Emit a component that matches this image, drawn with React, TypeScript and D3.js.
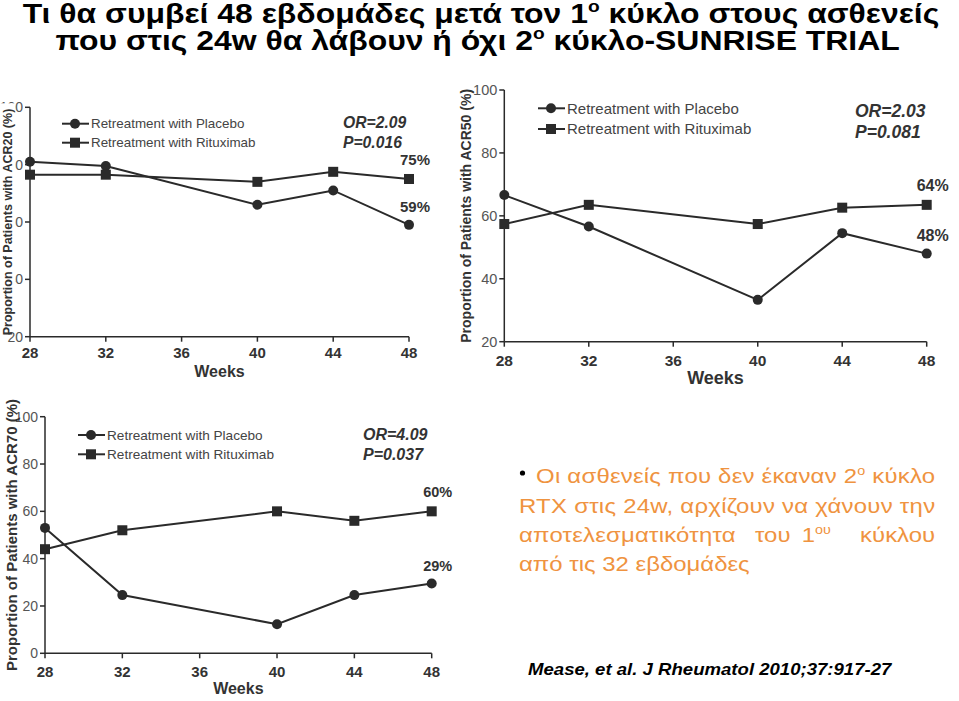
import React from 'react';
import * as d3 from 'd3';

// data
const weeks = [28, 32, 40, 44, 48];
const weekTicks = [28, 32, 36, 40, 44, 48];
const seriesNames = ['Retreatment with Placebo', 'Retreatment with Rituximab'];

const acr20Placebo = [81, 79.5, 66, 71, 59];
const acr20Rituximab = [76.5, 76.5, 74, 77.5, 75];
const acr50Placebo = [66.6, 56.6, 33.3, 54.5, 48];
const acr50Rituximab = [57.4, 63.5, 57.4, 62.6, 63.5];
const acr70Placebo = [53, 24.6, 12.3, 24.6, 29.5];
const acr70Rituximab = [44, 52, 60, 56, 60];

const yTicks20 = [20, 40, 60, 80, 100];
const yTicks0 = [0, 20, 40, 60, 80, 100];

const INK = '#2a2a2a';
const ORANGE = '#ef9340';
const FONT = 'Arial, "Liberation Sans", sans-serif';
// the slide is a little wider than its fonts: stretch text horizontally
const STRETCH = 1.14;

type PanelProps = {
  xRange: [number, number];
  yRange: [number, number]; // pixel for [min, max]
  yDomain: [number, number];
  yTicks: number[];
  placebo: number[];
  rituximab: number[];
  metric: string;
  or: string;
  p: string;
  legend: { x: number; y1: number; y2: number; size: number };
  orPos: { x: number; y1: number; y2: number; size: number };
  yTitle: { x: number; size: number };
  tickSize: number;
  weeksSize: number;
  pctSize: number;
  labelY: number;
  weeksY: number;
  hideLeft?: boolean;
};

const Marker = ({ kind, x, y }: { kind: 'circle' | 'square'; x: number; y: number }) =>
  kind === 'circle' ? (
    <circle cx={x} cy={y} r={5} fill={INK} />
  ) : (
    <rect x={x - 5} y={y - 5} width={10} height={10} fill={INK} />
  );

const Panel = (props: PanelProps) => {
  const { xRange, yRange, yDomain, yTicks, placebo, rituximab } = props;
  const x = d3.scaleLinear().domain([28, 48]).range(xRange);
  const y = d3.scaleLinear().domain(yDomain).range(yRange);
  const line = d3
    .line<number>()
    .x((_, i) => x(weeks[i]))
    .y((d) => y(d));

  const x0 = xRange[0];
  const yb = yRange[0];
  const yt = yRange[1];
  const yMid = (yb + yt) / 2;
  const last = weeks.length - 1;

  return (
    <g fontFamily={FONT}>
      {/* axes */}
      <line x1={x0} x2={x0} y1={yt} y2={yb} stroke={INK} strokeWidth={1.5} />
      <line x1={x0} x2={xRange[1]} y1={yb} y2={yb} stroke={INK} strokeWidth={1.5} />
      {yTicks.map((t) => (
        <g key={'y' + t}>
          <line x1={x0 - 5} x2={x0} y1={y(t)} y2={y(t)} stroke={INK} strokeWidth={1.5} />
          <text
            x={x0 - 7}
            y={y(t)}
            dy="0.35em"
            textAnchor="end"
            fontSize={props.tickSize}
            fill="#555"
          >
            {t}
          </text>
        </g>
      ))}
      {weekTicks.map((w) => (
        <g key={'x' + w}>
          <line x1={x(w)} x2={x(w)} y1={yb} y2={yb + 5} stroke={INK} strokeWidth={1.5} />
          <text
            x={x(w)}
            y={props.labelY}
            textAnchor="middle"
            fontSize={props.tickSize + 1}
            fontWeight="bold"
            fill="#333"
          >
            {w}
          </text>
        </g>
      ))}
      <text
        x={(xRange[0] + xRange[1]) / 2}
        y={props.weeksY}
        textAnchor="middle"
        fontSize={props.weeksSize}
        fontWeight="bold"
        fill="#333"
      >
        Weeks
      </text>

      {props.hideLeft && <rect x={0} y={yt - 4} width={15} height={yb - yt - 2} fill="#fff" />}
      <text
        transform={`translate(${props.yTitle.x},${yMid}) rotate(-90)`}
        textAnchor="middle"
        dy="0.35em"
        fontSize={props.yTitle.size}
        fontWeight="bold"
        fill="#333"
      >
        {`Proportion of Patients with ${props.metric} (%)`}
      </text>

      {/* series */}
      <path d={line(placebo) || ''} fill="none" stroke={INK} strokeWidth={2} />
      <path d={line(rituximab) || ''} fill="none" stroke={INK} strokeWidth={2} />
      {placebo.map((v, i) => (
        <Marker key={'p' + i} kind="circle" x={x(weeks[i])} y={y(v)} />
      ))}
      {rituximab.map((v, i) => (
        <Marker key={'r' + i} kind="square" x={x(weeks[i])} y={y(v)} />
      ))}

      {/* end labels */}
      <text
        x={x(weeks[last]) + 6}
        y={y(rituximab[last]) - 14}
        textAnchor="middle"
        fontSize={props.pctSize}
        fontWeight="bold"
        fill="#333"
      >
        {`${Math.round(rituximab[last])}%`}
      </text>
      <text
        x={x(weeks[last]) + 6}
        y={y(placebo[last]) - 13}
        textAnchor="middle"
        fontSize={props.pctSize}
        fontWeight="bold"
        fill="#333"
      >
        {`${Math.floor(placebo[last])}%`}
      </text>

      {/* legend */}
      {seriesNames.map((name, i) => {
        const ly = i === 0 ? props.legend.y1 : props.legend.y2;
        const lx = props.legend.x;
        return (
          <g key={name}>
            <line x1={lx} x2={lx + 27} y1={ly} y2={ly} stroke={INK} strokeWidth={2} />
            <Marker kind={i === 0 ? 'circle' : 'square'} x={lx + 13} y={ly} />
            <text x={lx + 29} y={ly} dy="0.35em" fontSize={props.legend.size} fill="#444">
              {name}
            </text>
          </g>
        );
      })}
      <text
        x={props.orPos.x}
        y={props.orPos.y1}
        dy="0.35em"
        fontSize={props.orPos.size}
        fontWeight="bold"
        fontStyle="italic"
        fill="#333"
      >
        {props.or}
      </text>
      <text
        x={props.orPos.x}
        y={props.orPos.y2}
        dy="0.35em"
        fontSize={props.orPos.size}
        fontWeight="bold"
        fontStyle="italic"
        fill="#333"
      >
        {props.p}
      </text>
    </g>
  );
};

const Sup = ({ children }: { children: string }) => (
  <tspan fontSize="0.6em" dy="-0.65em">
    {children}
  </tspan>
);

export default function App() {
  return (
    <svg
      width={959}
      height={701}
      style={{ position: 'absolute', left: 0, top: 0, background: '#fff' }}
    >
      <rect width={959} height={701} fill="#fff" />

      {/* title */}
      <g
        transform={`translate(481,0) scale(${STRETCH},1)`}
        fontFamily={FONT}
        fontWeight="bold"
        fontSize={28}
        fill="#000"
        textAnchor="middle"
      >
        <text x={0} y={23}>
          Τι θα συμβεί 48 εβδομάδες μετά τον 1<Sup>ο</Sup>
          <tspan dy="0.39em"> κύκλο στους ασθενείς</tspan>
        </text>
        <text x={-3} y={50}>
          που στις 24w θα λάβουν ή όχι 2<Sup>ο</Sup>
          <tspan dy="0.39em"> κύκλο-SUNRISE TRIAL</tspan>
        </text>
      </g>

      <Panel
        xRange={[30, 409]}
        yRange={[336.7, 107.3]}
        yDomain={[20, 100]}
        yTicks={yTicks20}
        placebo={acr20Placebo}
        rituximab={acr20Rituximab}
        metric="ACR20"
        or="OR=2.09"
        p="P=0.016"
        legend={{ x: 62, y1: 123.7, y2: 142.7, size: 13.4 }}
        orPos={{ x: 343, y1: 123, y2: 143, size: 15.7 }}
        yTitle={{ x: 8, size: 12.5 }}
        tickSize={14}
        weeksSize={16}
        pctSize={15}
        labelY={358}
        weeksY={377}
        hideLeft
      />
      <Panel
        xRange={[504.3, 926.7]}
        yRange={[341.7, 90]}
        yDomain={[20, 100]}
        yTicks={yTicks20}
        placebo={acr50Placebo}
        rituximab={acr50Rituximab}
        metric="ACR50"
        or="OR=2.03"
        p="P=0.081"
        legend={{ x: 538, y1: 108.3, y2: 129, size: 15 }}
        orPos={{ x: 855, y1: 111, y2: 132, size: 17.5 }}
        yTitle={{ x: 466, size: 14 }}
        tickSize={14.5}
        weeksSize={18}
        pctSize={16}
        labelY={365.5}
        weeksY={384}
      />
      <Panel
        xRange={[45, 431.7]}
        yRange={[653.3, 416.7]}
        yDomain={[0, 100]}
        yTicks={yTicks0}
        placebo={acr70Placebo}
        rituximab={acr70Rituximab}
        metric="ACR70"
        or="OR=4.09"
        p="P=0.037"
        legend={{ x: 78, y1: 435, y2: 454.3, size: 13.6 }}
        orPos={{ x: 363, y1: 434, y2: 454, size: 16 }}
        yTitle={{ x: 12, size: 15 }}
        tickSize={14}
        weeksSize={16}
        pctSize={14.5}
        labelY={677}
        weeksY={694}
      />

      {/* bullet note */}
      <circle cx={522.5} cy={473} r={2.6} fill="#000" />
      <g
        transform={`translate(519,0) scale(${STRETCH},1)`}
        fontFamily={FONT}
        fontSize={21}
        fill={ORANGE}
      >
        <text x={15} y={483} textLength={350} lengthAdjust="spacing">
          Οι ασθενείς που δεν έκαναν 2<Sup>ο</Sup>
          <tspan dy="0.39em"> κύκλο</tspan>
        </text>
        <text x={0} y={513} textLength={365} lengthAdjust="spacing">
          RTX στις 24w, αρχίζουν να χάνουν την
        </text>
        <text x={0} y={542} textLength={190} lengthAdjust="spacing">
          αποτελεσματικότητα
        </text>
        <text x={207} y={542}>
          του
        </text>
        <text x={248} y={542}>
          1<Sup>ου</Sup>
        </text>
        <text x={365} y={542} textAnchor="end">
          κύκλου
        </text>
        <text x={0} y={571}>
          από τις 32 εβδομάδες
        </text>
      </g>

      <g transform={`translate(528,0) scale(${STRETCH},1)`}>
        <text
          x={0}
          y={675}
          fontFamily={FONT}
          fontSize={16.3}
          fontWeight="bold"
          fontStyle="italic"
          fill="#000"
        >
          Mease, et al. J Rheumatol 2010;37:917-27
        </text>
      </g>
    </svg>
  );
}
